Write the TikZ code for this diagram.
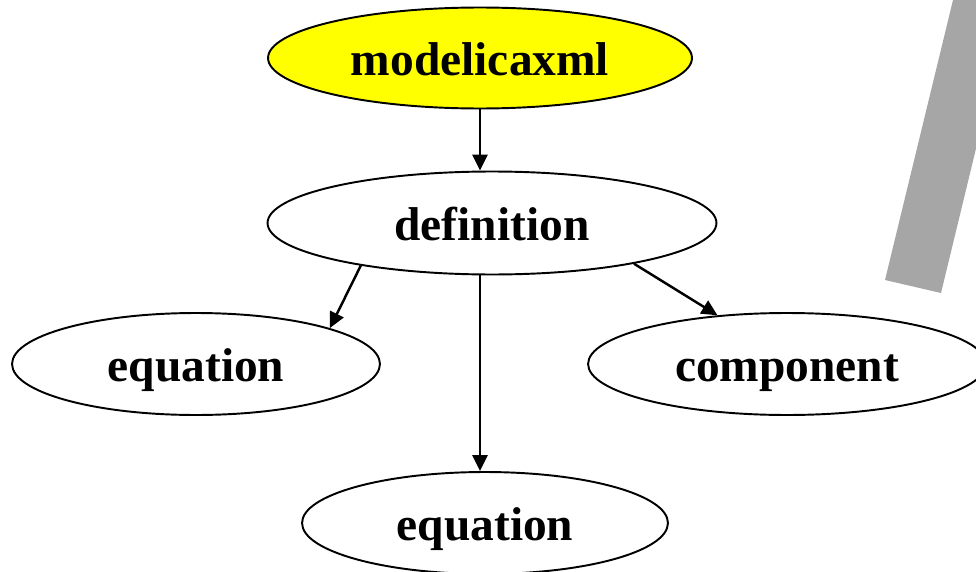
\documentclass[tikz,border=0pt]{standalone}
\usepackage{fontspec}
\setmainfont{Liberation Serif}
\usetikzlibrary{arrows.meta,shapes.geometric}
\definecolor{mxYellow}{HTML}{FFFF00}
\definecolor{mxGrey}{HTML}{A6A6A6}

\begin{document}
\begin{tikzpicture}[x=0.02cm,y=-0.02cm,
    elem/.style={draw,ellipse,line width=1.1pt,inner sep=0pt,
                 text height=20pt,text depth=0pt,
                 font=\fontsize{27}{32}\selectfont\bfseries},
    link/.style={-{Triangle[length=9pt,width=8.5pt]},line width=1.4pt}]
  \useasboundingbox (0,0) rectangle (976,571);
  % grey bar, cut by the page edge
  \begin{scope}
    \clip (0,0) rectangle (976,571);
    \fill[mxGrey] (953,0) -- (1012,0) -- (941,293) -- (885,280) -- cycle;
  \end{scope}
  \node[elem,fill=mxYellow,minimum width=8.48cm,minimum height=2.02cm]
    (mx) at (480,58) {modelicaxml};
  \node[elem,minimum width=8.98cm,minimum height=2.06cm]
    (def) at (492,223) {definition};
  \node[elem,minimum width=7.36cm,minimum height=2.04cm]
    (eqL) at (196,364) {equation};
  \node[elem,minimum width=7.96cm,minimum height=2.04cm]
    (comp) at (787,364) {component};
  \node[elem,minimum width=7.32cm,minimum height=2.04cm]
    (eqB) at (485,523) {equation};
  \draw[link] (mx.south) -- (mx.south |- def.north);
  \draw[link] (def.198) -- (eqL.15);
  \draw[link] (def.south -| mx.south) -- (mx.south |- eqB.north);
  \draw[link] (def.-16) -- (comp.145);
\end{tikzpicture}
\end{document}
